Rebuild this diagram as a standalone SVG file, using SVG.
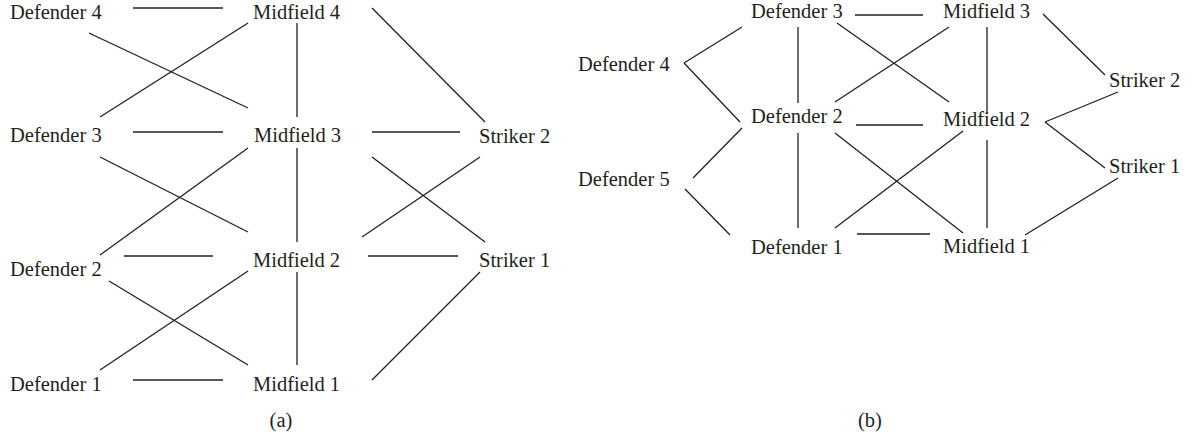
<svg xmlns="http://www.w3.org/2000/svg" width="1192" height="439" viewBox="0 0 1192 439">
<style>
text{font-family:"Liberation Serif","Times New Roman",serif;font-size:20.5px;fill:#231f20}
line{stroke:#231f20;stroke-width:1.3}
</style>
<rect width="1192" height="439" fill="#fff"/>
<g id="a-defender4"><text x="10" y="19">Defender 4</text></g>
<g id="a-defender3"><text x="10" y="142">Defender 3</text></g>
<g id="a-defender2"><text x="10" y="276">Defender 2</text></g>
<g id="a-defender1"><text x="10" y="391">Defender 1</text></g>
<g id="a-midfield4"><text x="253" y="19">Midfield 4</text></g>
<g id="a-midfield3"><text x="254" y="142">Midfield 3</text></g>
<g id="a-midfield2"><text x="253" y="267">Midfield 2</text></g>
<g id="a-midfield1"><text x="253" y="391">Midfield 1</text></g>
<g id="a-striker2"><text x="479" y="143">Striker 2</text></g>
<g id="a-striker1"><text x="479" y="267">Striker 1</text></g>
<g id="a-label"><text x="281" y="427" text-anchor="middle">(a)</text></g>
<g id="b-defender3"><text x="751" y="18">Defender 3</text></g>
<g id="b-defender4"><text x="578" y="71">Defender 4</text></g>
<g id="b-defender2"><text x="751" y="123">Defender 2</text></g>
<g id="b-defender5"><text x="578" y="186">Defender 5</text></g>
<g id="b-defender1"><text x="751" y="254">Defender 1</text></g>
<g id="b-midfield3"><text x="943" y="18">Midfield 3</text></g>
<g id="b-midfield2"><text x="943" y="126">Midfield 2</text></g>
<g id="b-midfield1"><text x="943" y="253">Midfield 1</text></g>
<g id="b-striker2"><text x="1109" y="87">Striker 2</text></g>
<g id="b-striker1"><text x="1109" y="173">Striker 1</text></g>
<g id="b-label"><text x="870" y="427" text-anchor="middle">(b)</text></g>
<g id="connectors">
<line x1="133" y1="8" x2="223" y2="8"/>
<line x1="89" y1="33" x2="248" y2="108"/>
<line x1="248" y1="23" x2="100" y2="117"/>
<line x1="297" y1="23" x2="297" y2="117"/>
<line x1="372" y1="8" x2="485" y2="122"/>
<line x1="133" y1="132" x2="223" y2="132"/>
<line x1="372" y1="132" x2="460" y2="132"/>
<line x1="100" y1="157" x2="248" y2="232"/>
<line x1="248" y1="148" x2="100" y2="255"/>
<line x1="297" y1="148" x2="297" y2="242"/>
<line x1="372" y1="157" x2="485" y2="242"/>
<line x1="480" y1="157" x2="362" y2="237"/>
<line x1="124" y1="256" x2="213" y2="256"/>
<line x1="368" y1="256" x2="458" y2="256"/>
<line x1="109" y1="281" x2="248" y2="365"/>
<line x1="248" y1="271" x2="100" y2="370"/>
<line x1="297" y1="272" x2="297" y2="365"/>
<line x1="133" y1="380" x2="223" y2="380"/>
<line x1="480" y1="272" x2="372" y2="380"/>
<line x1="742" y1="27" x2="684" y2="63"/>
<line x1="684" y1="63" x2="740" y2="122"/>
<line x1="742" y1="128" x2="693" y2="178"/>
<line x1="685" y1="189" x2="730" y2="235"/>
<line x1="798" y1="27" x2="798" y2="103"/>
<line x1="798" y1="133" x2="798" y2="228"/>
<line x1="855" y1="15" x2="923" y2="15"/>
<line x1="837" y1="23" x2="949" y2="102"/>
<line x1="835" y1="102" x2="949" y2="27"/>
<line x1="856" y1="125" x2="923" y2="125"/>
<line x1="835" y1="133" x2="963" y2="233"/>
<line x1="835" y1="228" x2="963" y2="131"/>
<line x1="857" y1="234" x2="930" y2="234"/>
<line x1="987" y1="27" x2="987" y2="114"/>
<line x1="987" y1="140" x2="987" y2="228"/>
<line x1="1043" y1="14" x2="1105" y2="75"/>
<line x1="1045" y1="122" x2="1118" y2="92"/>
<line x1="1045" y1="122" x2="1105" y2="168"/>
<line x1="1118" y1="178" x2="1025" y2="235"/>
</g>
</svg>
